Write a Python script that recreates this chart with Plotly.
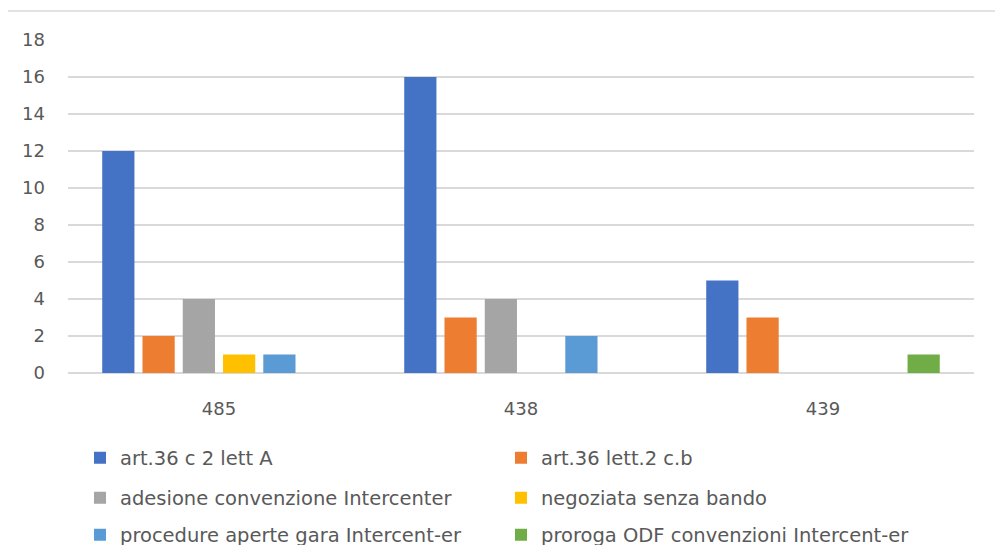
import plotly.graph_objects as go

categories = ["485", "438", "439"]
series_names = [
    "art.36 c 2 lett A",
    "art.36 lett.2 c.b",
    "adesione convenzione Intercenter",
    "negoziata senza bando",
    "procedure aperte gara Intercent-er",
    "proroga ODF convenzioni Intercent-er",
]
art36_c2_lettA = [12, 16, 5]
art36_lett2_cb = [2, 3, 3]
adesione_convenzione = [4, 4, 0]
negoziata_senza_bando = [1, 0, 0]
procedure_aperte = [1, 2, 0]
proroga_odf = [0, 0, 1]
series_values = [art36_c2_lettA, art36_lett2_cb, adesione_convenzione,
                 negoziata_senza_bando, procedure_aperte, proroga_odf]
colors = ["#4472C4", "#ED7D31", "#A5A5A5", "#FFC000", "#5B9BD5", "#70AD47"]
y_ticks = [0, 2, 4, 6, 8, 10, 12, 14, 16, 18]

FONT = "DejaVu Sans, Open Sans, sans-serif"
TXT = "#595959"
W, H = 987, 537  # page body adds an 8px margin

fig = go.Figure()
legend_ids = ["legend", "legend", "legend2", "legend2", "legend3", "legend3"]
for name, vals, col, lg in zip(series_names, series_values, colors, legend_ids):
    fig.add_trace(go.Bar(x=categories, y=vals, name=name, marker_color=col,
                         marker_line_width=0, legend=lg))

leg_common = dict(orientation="h", xref="container", yref="container",
                  x=72 / W, xanchor="left", yanchor="middle",
                  entrywidth=376, entrywidthmode="pixels",
                  font=dict(family=FONT, size=19.5, color=TXT),
                  bgcolor="rgba(0,0,0,0)", itemclick=False)

fig.update_layout(
    width=W, height=H,
    margin=dict(l=60, r=21, t=32, b=172, autoexpand=False),
    paper_bgcolor="white", plot_bgcolor="white",
    barmode="group", bargap=0.2, bargroupgap=0.2,
    font=dict(family=FONT, size=18, color=TXT),
    legend=dict(leg_common, y=1 - 450 / H),
    legend2=dict(leg_common, y=1 - 490 / H),
    legend3=dict(leg_common, y=1 - 527 / H),
    xaxis=dict(showgrid=False, showline=False, ticks="",
               tickfont=dict(family=FONT, size=18, color=TXT),
               ticklabelstandoff=23),
    yaxis=dict(range=[0, 18], tickvals=y_ticks, showgrid=True,
               gridcolor="#D9D9D9", gridwidth=1.5, zeroline=True,
               zerolinecolor="#D9D9D9", zerolinewidth=1.5, showline=False,
               tickfont=dict(family=FONT, size=18, color=TXT),
               ticklabelstandoff=22),
    shapes=[dict(type="line", xref="paper", yref="paper",
                 x0=-60 / 906, x1=1 + 21 / 906,
                 y0=1 + 29 / 333, y1=1 + 29 / 333,
                 line=dict(color="#D9D9D9", width=1.5))],
)

fig.write_html("out.html")
